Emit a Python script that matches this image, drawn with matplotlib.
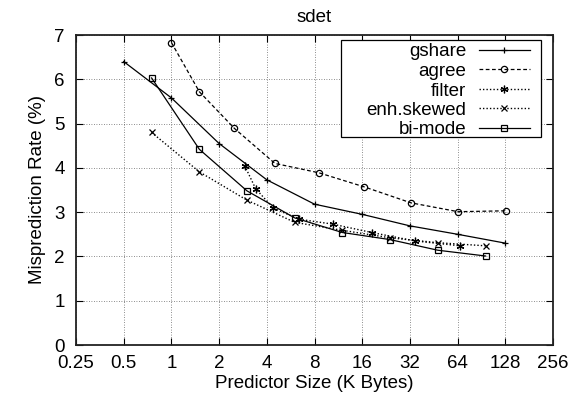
# coding: utf-8
'''
sdet: misprediction rate vs predictor size for several branch predictors.
'''

import matplotlib
matplotlib.use('Agg')
import matplotlib.pyplot as plt
from matplotlib.patches import Rectangle
from matplotlib.lines import Line2D

# Predictor size (K Bytes) and misprediction rate (%) per scheme
gshare_x = [0.5, 1, 2, 4, 8, 16, 32, 64, 128]
gshare_y = [6.40, 5.58, 4.55, 3.73, 3.18, 2.95, 2.69, 2.50, 2.30]

agree_x = [1, 1.5, 2.5, 4.5, 8.5, 16.5, 32.5, 64.5, 128.5]
agree_y = [6.83, 5.72, 4.89, 4.10, 3.89, 3.57, 3.21, 3.01, 3.03]

filter_x = [2.9, 3.4, 4.4, 6.4, 10.4, 18.4, 34.4, 66.4]
filter_y = [4.05, 3.53, 3.09, 2.84, 2.73, 2.54, 2.35, 2.24]

skewed_x = [0.75, 1.5, 3, 6, 12, 24, 48, 96]
skewed_y = [4.80, 3.91, 3.27, 2.77, 2.59, 2.42, 2.31, 2.24]

bimode_x = [0.75, 1.5, 3, 6, 12, 24, 48, 96]
bimode_y = [6.03, 4.42, 3.48, 2.87, 2.54, 2.38, 2.14, 2.01]

labels = ['gshare', 'agree', 'filter', 'enh.skewed', 'bi-mode']

x_ticks = [0.25, 0.5, 1, 2, 4, 8, 16, 32, 64, 128, 256]
x_tick_labels = ['0.25', '0.5', '1', '2', '4', '8', '16', '32', '64', '128', '256']

W, H = 581, 398

# line styles per series (same order as labels)
styles = [
    dict(ls='-', lw=0.9, marker='+', ms=5, mew=0.9),
    dict(ls=(0, (3, 2)), lw=0.9, marker='o', ms=4.5, mfc='none', mew=0.9),
    dict(ls=(0, (1, 1.5)), lw=1.0, marker=(6, 2, 0), ms=5.5, mew=0.9),
    dict(ls=(0, (1, 1.5)), lw=1.0, marker='x', ms=4.5, mew=0.9),
    dict(ls='-', lw=0.9, marker='s', ms=5, mfc='none', mew=0.9),
]

if __name__ == '__main__':
    plt.rcParams['font.family'] = ['Liberation Sans', 'DejaVu Sans']
    plt.rcParams['font.size'] = 13.5

    fig = plt.figure(figsize=(W / 100, H / 100), dpi=100)
    ax = fig.add_axes([76 / W, 1 - 345 / H, (553 - 76) / W, (345 - 35) / H])

    series = [(gshare_x, gshare_y), (agree_x, agree_y), (filter_x, filter_y),
              (skewed_x, skewed_y), (bimode_x, bimode_y)]
    for (xs, ys), st, lab in zip(series, styles, labels):
        ax.plot(xs, ys, color='black', label=lab, **st)

    ax.set_xscale('log', base=2)
    ax.set_xlim(0.25, 256)
    ax.set_ylim(0, 7)
    ax.set_xticks(x_ticks)
    ax.set_xticklabels(x_tick_labels)
    ax.minorticks_off()
    ax.set_yticks(range(0, 8))

    ax.grid(True, linestyle=(0, (1, 2)), color='black', lw=0.6, alpha=0.6)
    ax.tick_params(direction='in', top=True, right=True, length=5, width=0.8,
                   colors='black')
    ax.tick_params(axis='x', pad=7)
    ax.tick_params(axis='y', pad=8)
    for s in ax.spines.values():
        s.set_linewidth(1.3)
        s.set_color('#222222')

    ax.set_title('sdet', fontsize=13.5, pad=9)
    ax.set_xlabel('Predictor Size (K Bytes)', labelpad=2)
    ax.set_ylabel('Misprediction Rate (%)', labelpad=6)

    # gnuplot-style key: box, right-aligned labels, sample line with marker
    fig.add_artist(Rectangle((341 / W, 1 - 137 / H), 200 / W, 97 / H,
                             transform=fig.transFigure, fc='white',
                             ec='black', lw=0.9, zorder=5))
    row_y = [49.7, 69.3, 89.0, 108.3, 127.7]
    for yy, st, lab in zip(row_y, styles, labels):
        fy = 1 - yy / H
        fig.text(466 / W, fy, lab, ha='right', va='center_baseline',
                 fontsize=13.5, zorder=6)
        line_st = {k: v for k, v in st.items()
                   if k not in ('marker', 'ms', 'mfc', 'mew')}
        fig.add_artist(Line2D([479 / W, 530 / W], [fy, fy], color='black',
                              transform=fig.transFigure, zorder=6, **line_st))
        mark_st = {k: v for k, v in st.items() if k not in ('ls', 'lw')}
        fig.add_artist(Line2D([504.5 / W], [fy], color='black', ls='none',
                              transform=fig.transFigure, zorder=6, **mark_st))

    fig.savefig('out.png', dpi=100)
